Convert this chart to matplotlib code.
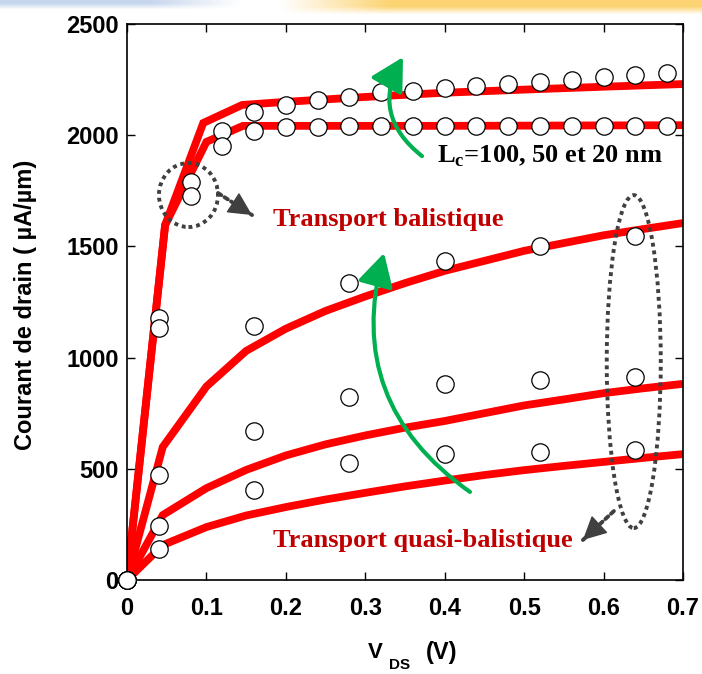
import numpy as np
import matplotlib
matplotlib.use("Agg")
import matplotlib.pyplot as plt
from matplotlib.patches import Ellipse, FancyArrowPatch

plt.rcParams["font.family"] = "Liberation Sans"
plt.rcParams["font.weight"] = "bold"

# ── données : points de simulation (cercles) ─────────────────────
vds_fine = [0.00, 0.04, 0.08, 0.12, 0.16, 0.20, 0.24, 0.28, 0.32,
            0.36, 0.40, 0.44, 0.48, 0.52, 0.56, 0.60, 0.64, 0.68]
id_bal_top = [0, 1180, 1790, 2020, 2104, 2136, 2158, 2172, 2192,
              2197, 2212, 2221, 2232, 2239, 2250, 2261, 2272, 2279]
id_bal_low = [0, 1133, 1728, 1950, 2020, 2037, 2038, 2040, 2041,
              2041, 2041, 2042, 2042, 2042, 2042, 2042, 2042, 2042]

vds_coarse = [0.00, 0.04, 0.16, 0.28, 0.40, 0.52, 0.64]
id_qb_100 = [0, 472, 1142, 1335, 1434, 1502, 1547]
id_qb_50 = [0, 245, 672, 823, 881, 899, 913]
id_qb_20 = [0, 139, 405, 526, 566, 575, 584]

# ── données : courbes (traits rouges) ────────────────────────────
vds_line_a = [0, 0.048, 0.096, 0.145, 0.2, 0.3, 0.4, 0.5, 0.6, 0.7]
id_line_a = [0, 1596, 2055, 2136, 2150, 2172, 2191, 2205, 2218, 2230]
vds_line_b = [0, 0.048, 0.1, 0.146, 0.2, 0.4, 0.7]
id_line_b = [0, 1596, 1970, 2042, 2042, 2042, 2045]

vds_line_qb = [0, 0.045, 0.1, 0.15, 0.2, 0.25, 0.3, 0.35, 0.4,
               0.45, 0.5, 0.55, 0.6, 0.65, 0.7]
id_line_100 = [0, 598, 870, 1030, 1130, 1210, 1275, 1335, 1390,
               1435, 1480, 1515, 1550, 1578, 1605]
id_line_50 = [0, 292, 413, 495, 560, 610, 650, 685, 715,
              750, 785, 812, 840, 862, 882]
id_line_20 = [0, 157, 238, 290, 328, 362, 392, 421, 447,
              472, 494, 513, 531, 549, 566]

x_ticks = [0, 0.1, 0.2, 0.3, 0.4, 0.5, 0.6, 0.7]
x_labels = ["0", "0.1", "0.2", "0.3", "0.4", "0.5", "0.6", "0.7"]
y_ticks = [0, 500, 1000, 1500, 2000, 2500]

RED = "#ff0000"
DARKRED = "#c00000"
GREEN = "#00b050"
GREY = "#404040"

W, H = 702, 674
fig = plt.figure(figsize=(W / 100, H / 100), dpi=100)

# bandeau dégradé en haut
xs = np.arange(W)
rows = np.arange(14)
banner = np.ones((14, W, 3))
blue = np.array([0.78, 0.84, 0.93])
yellow = np.array([0.99, 0.83, 0.45])
wb = np.clip((240 - xs) / 90, 0, 1)[None, :] * np.clip((9 - rows) / 6, 0, 1)[:, None]
wy = np.clip((xs - 280) / 110, 0, 1)[None, :] * np.clip((14 - rows) / 8, 0, 1)[:, None]
banner = banner * (1 - wb[..., None]) + blue * wb[..., None]
banner = banner * (1 - wy[..., None]) + yellow * wy[..., None]
ax_b = fig.add_axes([0, 1 - 14 / H, 1, 14 / H])
ax_b.imshow(banner, aspect="auto")
ax_b.axis("off")

ax = fig.add_axes([127 / W, 94 / H, 556 / W, 556 / H])
ax.set_xlim(0, 0.7)
ax.set_ylim(0, 2500)

line_kw = dict(color=RED, lw=5.6, solid_joinstyle="miter", solid_capstyle="butt", zorder=2)
ax.plot(vds_line_a, id_line_a, **line_kw)
ax.plot(vds_line_b, id_line_b, **line_kw)
ax.plot(vds_line_qb, id_line_100, **line_kw)
ax.plot(vds_line_qb, id_line_50, **line_kw)
ax.plot(vds_line_qb, id_line_20, **line_kw)

mk_kw = dict(ls="none", marker="o", ms=12.5, mfc="white", mec="black", mew=0.9,
             clip_on=False, zorder=3)
for yv in (id_bal_top, id_bal_low):
    ax.plot(vds_fine, yv, **mk_kw)
for yv in (id_qb_100, id_qb_50, id_qb_20):
    ax.plot(vds_coarse, yv, **mk_kw)

# axes
ax.set_xticks(x_ticks)
ax.set_xticklabels(x_labels)
ax.set_yticks(y_ticks)
ax.tick_params(direction="in", length=6, width=1, top=True, right=True,
               labelsize=17, colors="black")
ax.tick_params(axis="x", pad=12)
ax.tick_params(axis="y", pad=6)
for s in ax.spines.values():
    s.set_linewidth(1.2)

fig.text(26 / W, 1 - 305 / H, "Courant de drain ( µA/µm)", rotation=90,
         ha="center", va="center", fontsize=17)
fig.text(368 / W, 1 - 652 / H, "V", ha="left", va="center", fontsize=16)
fig.text(389 / W, 1 - 665 / H, "DS", ha="left", va="center", fontsize=11)
fig.text(426 / W, 1 - 652 / H, "(V)", ha="left", va="center", fontsize=17)

# annotations
serif = dict(family="Liberation Serif", weight="bold", fontsize=19)
ax.text(0.1838, 1592, "Transport balistique", color=DARKRED, ha="left", va="baseline", **serif)
ax.text(0.1838, 148, "Transport quasi-balistique", color=DARKRED, ha="left", va="baseline", **serif)
ax.text(0.390, 1879, r"L$_\mathregular{c}$=100, 50 et 20 nm", color="black",
        ha="left", va="baseline", zorder=6, **serif)

dot = (0, (1, 1))
ax.add_patch(Ellipse((0.0774, 1731), 0.0743, 288, fill=False, ec=GREY, lw=2.8, ls=dot, zorder=5))
ax.add_patch(Ellipse((0.638, 982), 0.068, 1497, fill=False, ec=GREY, lw=2.8, ls=dot, zorder=5))

# flèches pointillées : trait pointillé + pointe pleine
for (p0, p1) in [((0.1146, 1740), (0.1574, 1641)), ((0.613, 310), (0.574, 180))]:
    ax.annotate("", xy=p1, xytext=p0,
                arrowprops=dict(arrowstyle="-", color=GREY, lw=2.8, ls=dot,
                                shrinkA=0, shrinkB=0), zorder=5)
    pm = (p1[0] - 0.15 * (p1[0] - p0[0]), p1[1] - 0.15 * (p1[1] - p0[1]))
    ax.annotate("", xy=p1, xytext=pm,
                arrowprops=dict(arrowstyle="-|>,head_length=0.75,head_width=0.38",
                                mutation_scale=20, color=GREY, lw=1,
                                shrinkA=0, shrinkB=0), zorder=5)

for (p0, p1, rad) in [((0.4318, 396), (0.3236, 1470), -0.35),
                      ((0.3714, 1906), (0.3475, 2351), -0.43)]:
    ax.add_patch(FancyArrowPatch(p0, p1, connectionstyle="arc3,rad=%s" % rad,
                                 arrowstyle="-|>,head_length=1.0,head_width=0.55",
                                 mutation_scale=20, color=GREEN, lw=3,
                                 shrinkA=0, shrinkB=0, zorder=6))

fig.savefig("out.png", dpi=100)
